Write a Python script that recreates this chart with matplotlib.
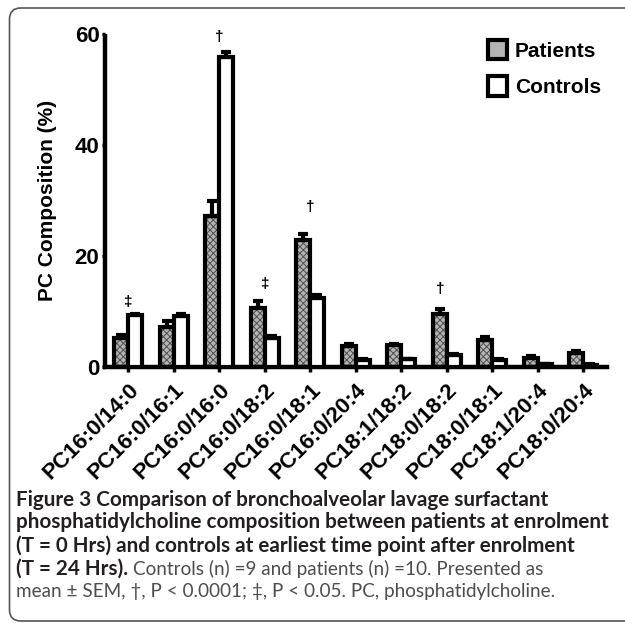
import numpy as np
import matplotlib
matplotlib.use('Agg')
from matplotlib import pyplot as plt
from matplotlib.patches import FancyBboxPatch, Patch

# PC species composition (% of total PC), mean and SEM
species = ['PC16:0/14:0', 'PC16:0/16:1', 'PC16:0/16:0', 'PC16:0/18:2',
           'PC16:0/18:1', 'PC16:0/20:4', 'PC18:1/18:2', 'PC18:0/18:2',
           'PC18:0/18:1', 'PC18:1/20:4', 'PC18:0/20:4']
patients = [5.3, 7.2, 27.1, 10.6, 22.9, 3.8, 3.9, 9.5, 4.8, 1.7, 2.5]
patients_sem = [0.5, 1.0, 2.8, 1.3, 1.1, 0.3, 0.3, 1.0, 0.6, 0.3, 0.3]
controls = [9.3, 9.2, 55.7, 5.3, 12.4, 1.3, 1.4, 2.1, 1.3, 0.5, 0.4]
controls_sem = [0.3, 0.3, 0.9, 0.2, 0.6, 0.1, 0.1, 0.2, 0.2, 0.1, 0.1]

# significance markers: symbol, category position, height
sig_marks = ['\u2021', '\u2020', '\u2021', '\u2020', '\u2020']
sig_pos = [0, 2, 3, 4, 6.85]
sig_height = [11.7, 59.3, 15.0, 28.8, 14.1]

caption_bold = ['Figure 3 Comparison of bronchoalveolar lavage surfactant',
                'phosphatidylcholine composition between patients at enrolment',
                '(T = 0 Hrs) and controls at earliest time point after enrolment',
                '(T = 24 Hrs).']
caption_rest = ['Controls (n) =9 and patients (n) =10. Presented as',
                'mean \u00b1 SEM, \u2020, P < 0.0001; \u2021, P < 0.05. PC, phosphatidylcholine.']

plt.rcParams['font.family'] = ['Liberation Sans', 'DejaVu Sans']
plt.rcParams['font.weight'] = 'bold'
plt.rcParams['axes.labelweight'] = 'bold'
plt.rcParams['font.size'] = 15
plt.rcParams['hatch.linewidth'] = 0.7

W, H = 625, 623
fig = plt.figure(figsize=(W / 100, H / 100), dpi=100)
ax = fig.add_axes([105 / W, 1 - 367 / H, 502 / W, 333.4 / H])

x = np.arange(len(species))
n = len(species)
w = 0.31
fill_kw = dict(color='#b4b4b4', edgecolor='#505050', hatch='xxxxx', lw=0)

ax.bar(x - w / 2, patients, w, zorder=2, **fill_kw)
ax.bar(x - w / 2, patients, w, fill=False, edgecolor='k', lw=3, zorder=3)
ax.bar(x + w / 2, controls, w, color='white', edgecolor='k', lw=3, zorder=3)

ax.errorbar(x - w / 2, patients, yerr=[np.zeros(n), patients_sem], fmt='none',
            ecolor='k', elinewidth=3, capsize=3.5, capthick=3, zorder=4)
ax.errorbar(x + w / 2, controls, yerr=[np.zeros(n), controls_sem], fmt='none',
            ecolor='k', elinewidth=3, capsize=3.5, capthick=3, zorder=4)

for m, xp, yp in zip(sig_marks, sig_pos, sig_height):
    ax.text(xp, yp, m, ha='center', va='center', fontsize=11)

ax.set_xlim(-0.512, 10.52)
ax.set_ylim(0, 60)
ax.spines['top'].set_visible(False)
ax.spines['right'].set_visible(False)
ax.spines['left'].set_linewidth(3.2)
ax.spines['bottom'].set_linewidth(3.2)
ax.spines['left'].set_capstyle('butt')

ax.set_yticks([0, 20, 40, 60])
ax.tick_params(axis='y', direction='out', length=2.5, width=2.5, pad=1.5,
               labelsize=16)
ax.set_xticks(x)
ax.set_xticklabels(species, rotation=45, ha='right', va='top',
                   rotation_mode='anchor')
ax.tick_params(axis='x', direction='out', length=3.5, width=2.5, pad=5.5,
               labelsize=16)

ax.set_ylabel('PC Composition (%)')
ax.yaxis.set_label_coords(-0.0956, 0.5)

handles = [(Patch(**fill_kw), Patch(fill=False, edgecolor='k', lw=3)),
           Patch(facecolor='white', edgecolor='k', lw=3)]
ax.legend(handles, ['Patients', 'Controls'], loc='upper left',
          bbox_to_anchor=(488 / W, 1 - 40 / H), bbox_transform=fig.transFigure,
          frameon=False, borderpad=0, borderaxespad=0, handlelength=0.9,
          handleheight=1.05, handletextpad=0.4, labelspacing=0.75)

# rounded frame around figure + caption
frame = FancyBboxPatch((9.5 / W, 1 - 621 / H), 700 / W, 613 / H,
                       boxstyle='round,pad=0,rounding_size=0.018',
                       transform=fig.transFigure, fill=False,
                       ec='#555555', lw=1.2)
fig.add_artist(frame)

cap_font = ['Lato', 'DejaVu Sans']
x0 = 16 / W
baselines = [505.5, 528.5, 551.5, 574.5, 597.5]
last = None
for i, line in enumerate(caption_bold):
    last = fig.text(x0, 1 - baselines[i] / H, line, family=cap_font,
                    fontsize=14.9, fontweight='bold', color='#231f20',
                    va='baseline')

fig.canvas.draw()
bb = last.get_window_extent()
fig.text((bb.x1 + 5) / W, 1 - baselines[3] / H, caption_rest[0],
         family=cap_font, fontsize=13.6, fontweight='normal',
         color='#4d4d4d', va='baseline')
fig.text(x0, 1 - baselines[4] / H, caption_rest[1], family=cap_font,
         fontsize=13.6, fontweight='normal', color='#4d4d4d',
         va='baseline')

fig.savefig('out.png', dpi=100)
